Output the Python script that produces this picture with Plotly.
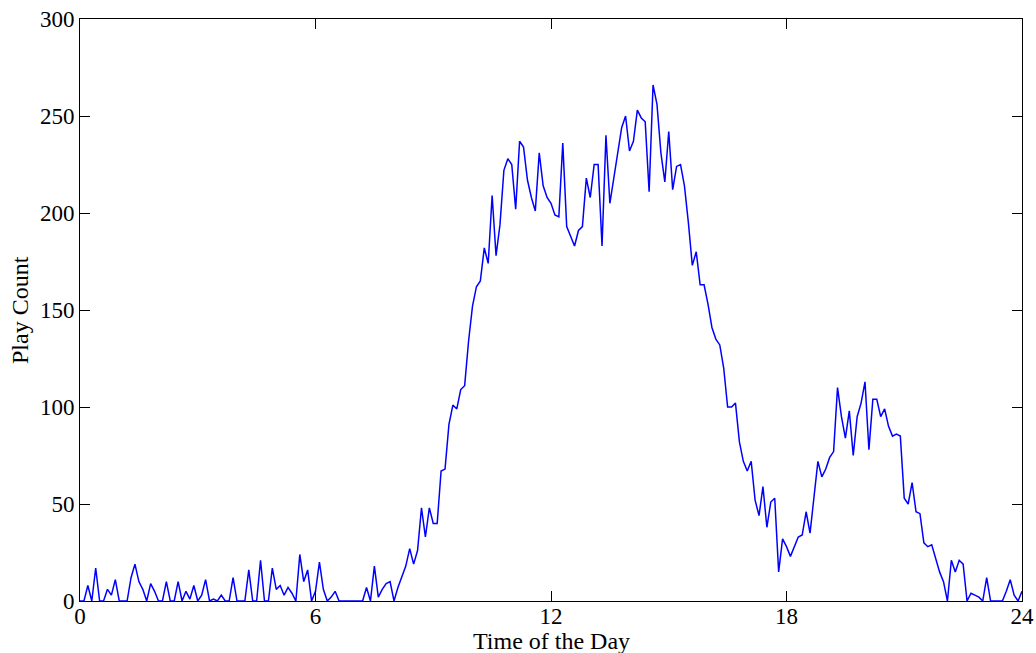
import plotly.graph_objects as go

# Time of day (hours), sampled every 0.1 h from 0 to 24
hours = [round(i * 0.1, 1) for i in range(241)]

play_count = [
    0, 0, 8, 0, 17, 0, 0, 6, 3, 11,
    0, 0, 0, 12, 19, 10, 6, 0, 9, 5,
    0, 0, 10, 0, 0, 10, 0, 5, 1, 8,
    0, 3, 11, 0, 1, 0, 3, 0, 0, 12,
    0, 0, 0, 16, 0, 0, 21, 0, 0, 17,
    6, 8, 3, 7, 4, 0, 24, 10, 16, 0,
    5, 20, 6, 0, 2, 5, 0, 0, 0, 0,
    0, 0, 0, 7, 0, 18, 2, 6, 9, 10,
    0, 7, 13, 18, 27, 19, 26, 48, 33, 48,
    40, 40, 67, 68, 91, 101, 99, 109, 111, 134,
    152, 162, 165, 182, 174, 209, 178, 194, 222, 228,
    225, 202, 237, 234, 217, 208, 201, 231, 214, 208,
    205, 199, 198, 236, 193, 188, 183, 191, 193, 218,
    208, 225, 225, 183, 240, 205, 218, 231, 244, 250,
    232, 237, 253, 249, 247, 211, 266, 256, 231, 216,
    242, 212, 224, 225, 214, 195, 173, 180, 163, 163,
    153, 141, 135, 132, 120, 100, 100, 102, 82, 72,
    67, 72, 52, 44, 59, 38, 51, 53, 15, 32,
    28, 23, 28, 33, 34, 46, 35, 54, 72, 64,
    68, 74, 77, 110, 95, 84, 98, 75, 95, 102,
    113, 78, 104, 104, 95, 99, 90, 85, 86, 85,
    53, 50, 61, 46, 45, 30, 28, 29, 22, 15,
    10, 0, 21, 15, 21, 19, 0, 4, 3, 2,
    0, 12, 0, 0, 0, 0, 5, 11, 3, 0,
    5,
]

x_ticks = [0, 6, 12, 18, 24]
y_ticks = [0, 50, 100, 150, 200, 250, 300]
x_title = "Time of the Day"
y_title = "Play Count"

FONT = "Liberation Serif"

fig = go.Figure()
fig.add_trace(go.Scatter(
    x=hours, y=play_count, mode="lines",
    line=dict(color="#0000FF", width=1.5),
    showlegend=False, hoverinfo="skip",
))

axis_common = dict(
    showgrid=False, zeroline=False, automargin=False,
    showline=True, linecolor="black", linewidth=1, mirror="ticks",
    ticks="inside", ticklen=10, tickcolor="black", tickwidth=1,
    tickfont=dict(family=FONT, size=23, color="black"),
    ticklabeloverflow="allow",
)

fig.update_layout(
    width=1036, height=653,
    margin=dict(l=80, r=14, t=19, b=52),
    paper_bgcolor="white", plot_bgcolor="white",
    xaxis=dict(range=[0, 24], tickvals=x_ticks, ticktext=[str(v) for v in x_ticks],
               ticklabelstandoff=-6, **axis_common),
    yaxis=dict(range=[0, 300], tickvals=y_ticks, ticktext=[str(v) for v in y_ticks], **axis_common),
    annotations=[
        dict(text=x_title, xref="paper", yref="paper", x=0.5, y=0, yshift=-40,
             xanchor="center", yanchor="middle", showarrow=False,
             font=dict(family=FONT, size=24, color="black")),
        dict(text=y_title, xref="paper", yref="paper", x=0, y=0.5, xshift=-60,
             xanchor="center", yanchor="middle", showarrow=False, textangle=-90,
             font=dict(family=FONT, size=24, color="black")),
    ],
)

fig.write_html(
    "out.html",
    config={"displayModeBar": False},
    post_script="document.body.style.margin='0';document.body.style.overflow='hidden';",
)
